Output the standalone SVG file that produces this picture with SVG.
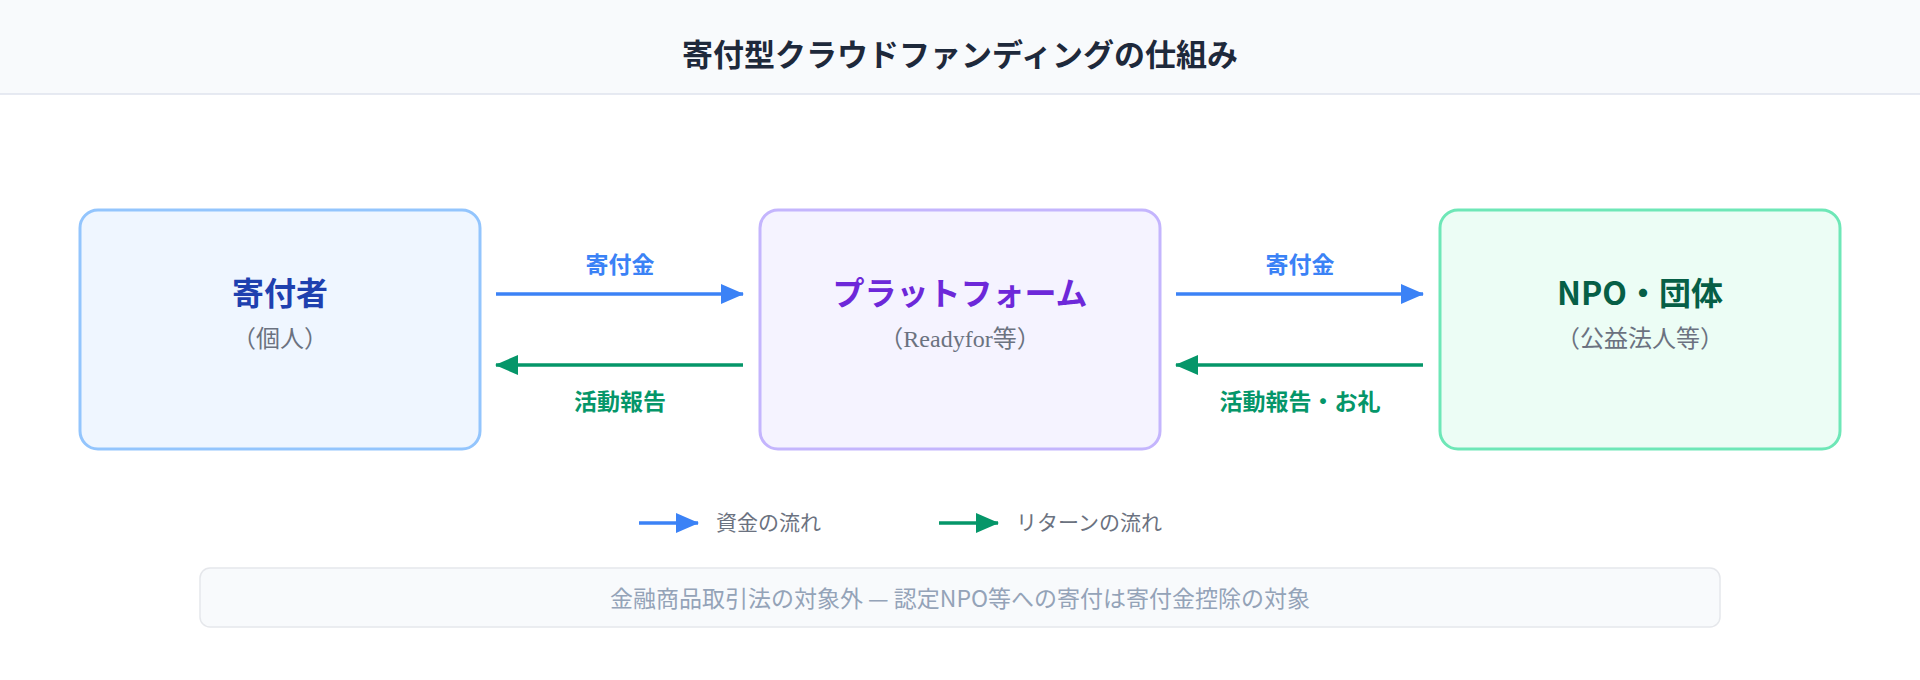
<svg xmlns="http://www.w3.org/2000/svg" width="1920" height="680" viewBox="0 0 1920 680">
<style>
.t{font-family:"Noto Sans CJK JP","Noto Sans",sans-serif;text-anchor:middle}
.s{font-family:"Liberation Serif","Noto Sans CJK JP",serif;text-anchor:middle;font-size:24px;fill:#6b7280}
.h{font-size:32px;font-weight:700}
.lb{font-size:23px;font-weight:700}
.lg{font-family:"Noto Sans CJK JP","Noto Sans",sans-serif;font-size:21px;fill:#6b7280}
</style>
<defs>
<marker id="ab" markerWidth="24" markerHeight="22" refX="22" refY="11" orient="auto" markerUnits="userSpaceOnUse"><path d="M0,1 L23,11 L0,21z" fill="#3b82f6"/></marker>
<marker id="ag" markerWidth="24" markerHeight="22" refX="22" refY="11" orient="auto" markerUnits="userSpaceOnUse"><path d="M0,1 L23,11 L0,21z" fill="#059669"/></marker>
</defs>
<rect width="1920" height="680" fill="#fff"/>
<rect width="1920" height="94" fill="#f8fafc"/>
<line x1="0" y1="94" x2="1920" y2="94" stroke="#dfe3ee" stroke-width="1.5"/>
<text class="t" x="960" y="66" font-size="31" font-weight="700" fill="#1e293b">寄付型クラウドファンディングの仕組み</text>
<g id="donor"><rect x="80" y="210" width="400" height="239" rx="18" fill="#eff6ff" stroke="#93c5fd" stroke-width="3"/>
<text class="t h" x="280" y="305" fill="#1e40af">寄付者</text><text class="s" x="280" y="347">（個人）</text></g>
<g id="platform"><rect x="760" y="210" width="400" height="239" rx="18" fill="#f5f3ff" stroke="#c4b5fd" stroke-width="3"/>
<text class="t h" x="960" y="305" fill="#6d28d9">プラットフォーム</text><text class="s" x="960" y="347">（Readyfor等）</text></g>
<g id="npo"><rect x="1440" y="210" width="400" height="239" rx="18" fill="#ecfdf5" stroke="#6ee7b7" stroke-width="3"/>
<text class="t h" x="1640" y="305" fill="#065f46">NPO・団体</text><text class="s" x="1640" y="347">（公益法人等）</text></g>
<g id="connectors" stroke-width="3.5">
<line x1="496" y1="294" x2="743" y2="294" stroke="#3b82f6" marker-end="url(#ab)"/>
<line x1="743" y1="365" x2="496" y2="365" stroke="#059669" marker-end="url(#ag)"/>
<line x1="1176" y1="294" x2="1423" y2="294" stroke="#3b82f6" marker-end="url(#ab)"/>
<line x1="1423" y1="365" x2="1176" y2="365" stroke="#059669" marker-end="url(#ag)"/>
<text class="t lb" x="620" y="273" fill="#3b82f6" stroke="none">寄付金</text>
<text class="t lb" x="620" y="410" fill="#059669" stroke="none">活動報告</text>
<text class="t lb" x="1300" y="273" fill="#3b82f6" stroke="none">寄付金</text>
<text class="t lb" x="1300" y="410" fill="#059669" stroke="none">活動報告・お礼</text>
</g>
<g id="legend" stroke-width="3.5">
<line x1="639" y1="523" x2="698" y2="523" stroke="#3b82f6" marker-end="url(#ab)"/>
<text class="lg" x="716" y="530">資金の流れ</text>
<line x1="939" y1="523" x2="998" y2="523" stroke="#059669" marker-end="url(#ag)"/>
<text class="lg" x="1016" y="530">リターンの流れ</text>
</g>
<g id="note"><rect x="200" y="568" width="1520" height="59" rx="10" fill="#f8fafc" stroke="#e5e7eb" stroke-width="1.5"/>
<text class="t" x="960" y="607" font-size="23" fill="#94a3b8">金融商品取引法の対象外 — 認定NPO等への寄付は寄付金控除の対象</text></g>
</svg>
